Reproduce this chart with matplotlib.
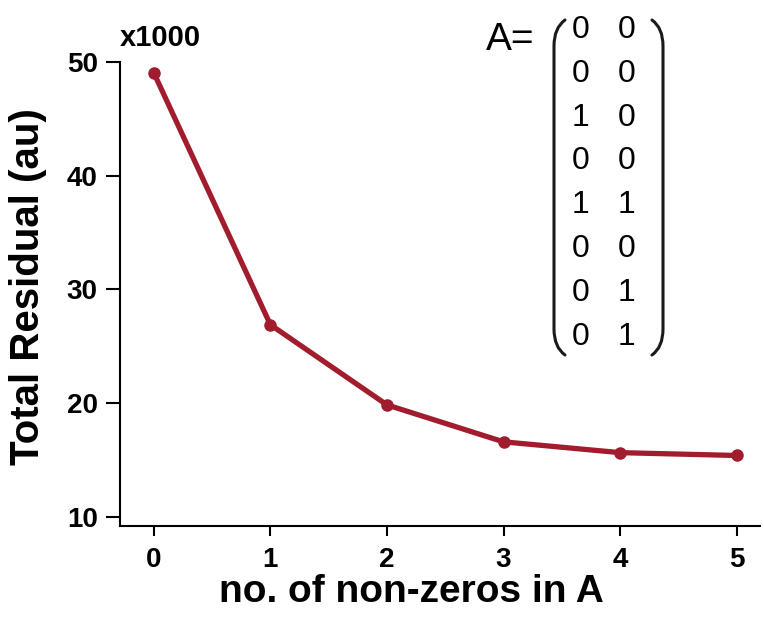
import matplotlib
matplotlib.use("Agg")
import matplotlib.pyplot as plt
from matplotlib.path import Path
from matplotlib.patches import PathPatch

# data (values are x1000)
n_nonzeros = [0, 1, 2, 3, 4, 5]
residual = [49.05, 26.9, 19.85, 16.6, 15.65, 15.4]
x_ticks = [0, 1, 2, 3, 4, 5]
y_ticks = [10, 20, 30, 40, 50]
matrix_rows = [("0", "0"), ("0", "0"), ("1", "0"), ("0", "0"),
               ("1", "1"), ("0", "0"), ("0", "1"), ("0", "1")]

W, H = 764, 618
line_col = "#A11C2C"
plain = ["Liberation Sans", "DejaVu Sans"]

fig = plt.figure(figsize=(W / 100, H / 100), dpi=100)
fig.patch.set_facecolor("white")

# axes box in pixel terms: left spine x=120, bottom spine y=526, top y=62
ax = fig.add_axes([120 / W, (H - 526) / H, 640 / W, (526 - 62) / H])
ax.plot(n_nonzeros, residual, color=line_col, lw=3.8, marker="o",
        markersize=8, solid_capstyle="round", solid_joinstyle="round")

ax.set_xlim(-0.29, 5.2)
ax.set_ylim(9.2, 50)
ax.set_xticks(x_ticks)
ax.set_yticks(y_ticks)
for s in ["top", "right"]:
    ax.spines[s].set_visible(False)
for s in ["left", "bottom"]:
    ax.spines[s].set_linewidth(1.5)
ax.tick_params(axis="y", length=10, width=1.5, pad=6)
ax.tick_params(axis="x", length=7, width=1.5, pad=8)
for lab in ax.get_xticklabels() + ax.get_yticklabels():
    lab.set_fontfamily(plain)
    lab.set_fontweight("bold")
    lab.set_fontsize(20)

ax.set_xlabel("no. of non-zeros in A", fontsize=28, fontweight="bold",
              family=plain)
ax.set_ylabel("Total Residual (au)", fontsize=29, fontweight="bold",
              family=plain)
ax.xaxis.set_label_coords(0.456, -0.104)
ax.yaxis.set_label_coords(-0.114, 0.515)

# scale note above the y axis
fig.text(120 / W, 1 - 38 / H, "x1000", fontsize=21, fontweight="bold",
         family=plain, va="center", ha="left")

# matrix annotation
fig.text(510 / W, 1 - 40 / H, "A=", fontsize=28, family=plain,
         va="center", ha="center")
row_y0, row_dy = 30, 43.8
for i, (a, b) in enumerate(matrix_rows):
    yy = 1 - (row_y0 + i * row_dy) / H
    fig.text(581 / W, yy, a, fontsize=23, family=plain, va="center", ha="center")
    fig.text(627 / W, yy, b, fontsize=23, family=plain, va="center", ha="center")


def paren(x_tip, x_mid, y_top, y_bot, curl=26):
    pts = [(x_tip, y_top), (x_mid, y_top + curl * 0.3), (x_mid, y_top + curl),
           (x_mid, y_bot - curl),
           (x_mid, y_bot - curl * 0.3), (x_tip, y_bot)]
    pts = [(px / W, 1 - py / H) for px, py in pts]
    codes = [Path.MOVETO, Path.CURVE3, Path.CURVE3, Path.LINETO,
             Path.CURVE3, Path.CURVE3]
    fig.patches.append(PathPatch(Path(pts, codes), transform=fig.transFigure,
                                 fill=False, lw=2.2, color="#1a1a1a",
                                 capstyle="round"))


paren(565, 554, 20, 355)
paren(652, 663, 20, 355)

fig.savefig("out.png", dpi=100, facecolor="white")
